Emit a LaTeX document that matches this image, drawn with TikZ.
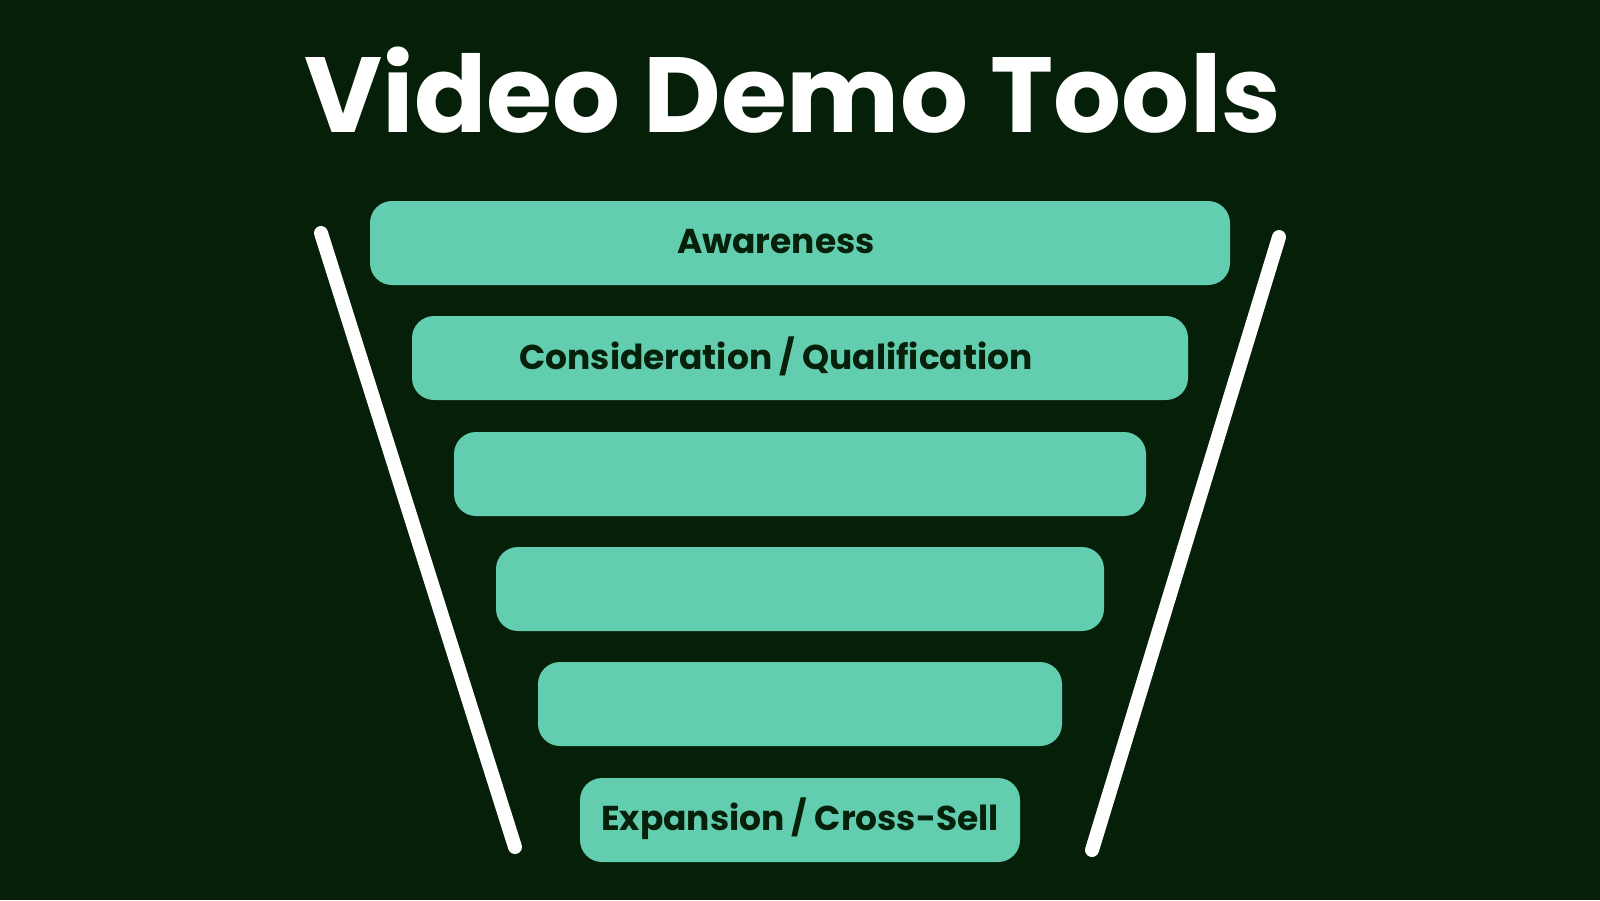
\documentclass[tikz,border=0pt]{standalone}
\usepackage{fontspec}
\setmainfont{Poppins}
\usepackage{xcolor}
\usepackage{tikz}
\usetikzlibrary{positioning}

\definecolor{bgdark}{HTML}{061F08}
\definecolor{stagegreen}{HTML}{63CDAF}
\definecolor{stagetext}{HTML}{06200A}

\begin{document}
\begin{tikzpicture}[
    stage/.style={rectangle, rounded corners=0.22cm, fill=stagegreen, minimum height=0.84cm, inner sep=0pt},
    stagelabel/.style={text=stagetext, font=\fontsize{9.8}{12}\selectfont\bfseries, anchor=base},
    rail/.style={white, line width=0.14cm, line cap=round}]

    % Background
    \fill [bgdark] (0,0) rectangle (16,-9);
    \useasboundingbox (0,0) rectangle (16,-9);

    % Title
    \node [white, font=\fontsize{30.4}{36}\selectfont\bfseries, anchor=base] (title) at (7.93,-1.32) {Video Demo Tools};

    % Funnel sides
    \draw [rail] (3.21,-2.33) -- (5.15,-8.47);
    \draw [rail] (12.79,-2.37) -- (10.92,-8.50);

    % Stages
    \node [stage, minimum width=8.60cm] (awareness) at (8.00,-2.43) {};
    \node [stage, minimum width=7.76cm] (consider) at (8.00,-3.58) {};
    \node [stage, minimum width=6.92cm] (stage3) at (8.00,-4.74) {};
    \node [stage, minimum width=6.08cm] (stage4) at (8.00,-5.89) {};
    \node [stage, minimum width=5.24cm] (stage5) at (8.00,-7.04) {};
    \node [stage, minimum width=4.40cm] (expansion) at (8.00,-8.20) {};

    % Labels
    \node [stagelabel] (awarenesstext) at (7.76,-2.53) {Awareness};
    \node [stagelabel] (considertext) at (7.76,-3.69) {Consideration / Qualification};
    \node [stagelabel] (expansiontext) at (8.00,-8.30) {Expansion / Cross-Sell};
\end{tikzpicture}
\end{document}
